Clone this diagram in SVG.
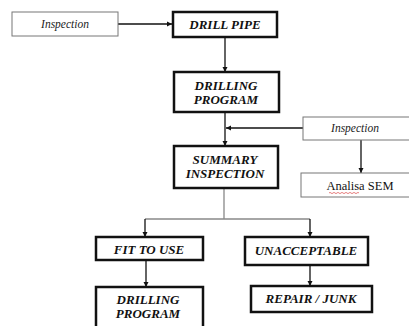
<svg xmlns="http://www.w3.org/2000/svg" width="409" height="326" viewBox="0 0 409 326">
<style>
.thick{fill:#fff;stroke:#111;stroke-width:2.5}
.thin{fill:#fff;stroke:#777;stroke-width:1}
text{font-family:'Liberation Serif','Times New Roman',Times,serif;text-anchor:middle;dominant-baseline:central}
.t{font-weight:bold;font-style:italic;font-size:13px;fill:#111}
.ti{font-style:italic;font-size:11.5px;fill:#222}
.tr{font-size:12.5px;fill:#111}
.c{fill:none;stroke:#111;stroke-width:1.3}
.g{fill:none;stroke:#888;stroke-width:1.3}
</style>
<defs>
<marker id="a" markerWidth="6" markerHeight="6" refX="5" refY="3" orient="auto" markerUnits="userSpaceOnUse">
<path d="M0,0.5 L5,3 L0,5.5 Z" fill="#111"/>
</marker>
</defs>
<rect width="409" height="326" fill="#fff"/>
<g id="connectors">
<line class="c" x1="118" y1="24" x2="172" y2="24" marker-end="url(#a)"/>
<line class="c" x1="225" y1="37" x2="225" y2="72" marker-end="url(#a)"/>
<line class="c" x1="225" y1="112" x2="225" y2="146" marker-end="url(#a)"/>
<line class="c" x1="303" y1="128" x2="226" y2="128" marker-end="url(#a)"/>
<line class="c" x1="361" y1="140" x2="361" y2="173" marker-end="url(#a)"/>
<polyline class="g" points="224,188 224,219"/>
<polyline class="g" points="145,219 310,219"/>
<line class="c" x1="145" y1="219" x2="145" y2="237" marker-end="url(#a)"/>
<line class="c" x1="310" y1="219" x2="310" y2="237" marker-end="url(#a)"/>
<line class="c" x1="146" y1="260" x2="146" y2="287" marker-end="url(#a)"/>
<line class="c" x1="310" y1="265" x2="310" y2="286" marker-end="url(#a)"/>
</g>
<g id="inspection1">
<rect class="thin" x="12" y="12" width="106" height="24"/>
<text class="ti" x="65" y="24">Inspection</text>
</g>
<g id="drill-pipe">
<rect class="thick" x="173" y="12" width="104" height="25"/>
<text class="t" x="225" y="24">DRILL PIPE</text>
</g>
<g id="drilling-program1">
<rect class="thick" x="174" y="72" width="105" height="40"/>
<text class="t" x="226" y="85">DRILLING</text>
<text class="t" x="226" y="99">PROGRAM</text>
</g>
<g id="inspection2">
<rect class="thin" x="303" y="117" width="108" height="23"/>
<text class="ti" x="355" y="128">Inspection</text>
</g>
<g id="summary-inspection">
<rect class="thick" x="174" y="146" width="104" height="42"/>
<text class="t" x="225" y="159">SUMMARY</text>
<text class="t" x="225" y="173">INSPECTION</text>
</g>
<g id="analisa-sem">
<rect class="thin" x="301" y="173" width="110" height="24"/>
<text class="tr" x="360" y="186">Analisa SEM</text>
<path d="M329,193 q1,-1.2 2,0 t2,0 t2,0 t2,0 t2,0 t2,0 t2,0 t2,0 t2,0 t2,0 t2,0 t2,0 t2,0 t2,0 t2,0" fill="none" stroke="#e06060" stroke-width="0.8"/>
</g>
<g id="fit-to-use">
<rect class="thick" x="96" y="237" width="107" height="23"/>
<text class="t" x="149" y="249">FIT TO USE</text>
</g>
<g id="unacceptable">
<rect class="thick" x="245" y="237" width="123" height="28"/>
<text class="t" x="306" y="250">UNACCEPTABLE</text>
</g>
<g id="drilling-program2">
<rect class="thick" x="96" y="287" width="107" height="42"/>
<text class="t" x="148" y="299">DRILLING</text>
<text class="t" x="148" y="313">PROGRAM</text>
</g>
<g id="repair-junk">
<rect class="thick" x="251" y="286" width="121" height="26"/>
<text class="t" x="311" y="298">REPAIR / JUNK</text>
</g>
</svg>
